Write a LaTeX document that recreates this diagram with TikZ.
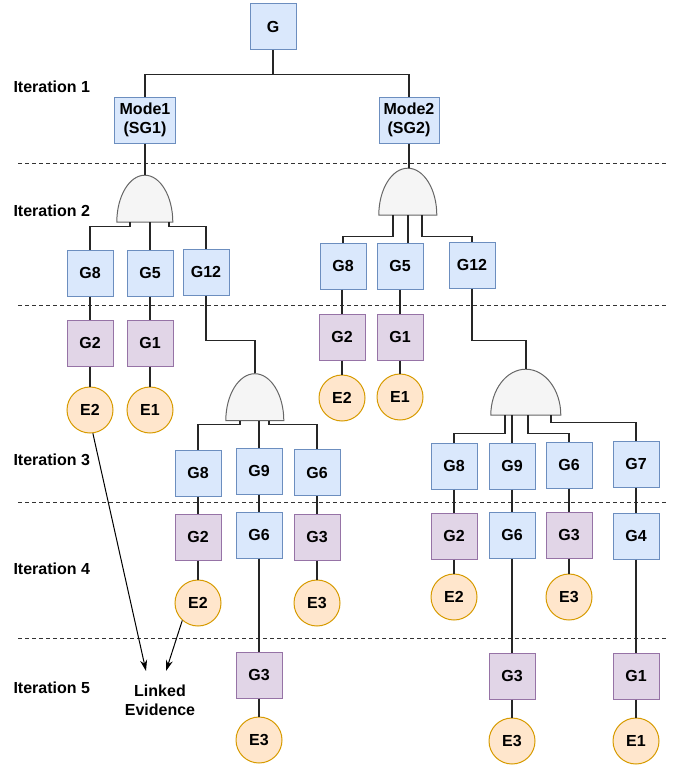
\documentclass[tikz,border=0pt]{standalone}
\usepackage{fontspec}
\setmainfont{Liberation Sans}
\usetikzlibrary{arrows.meta}
\definecolor{bfill}{HTML}{DAE8FC}
\definecolor{bdraw}{HTML}{6C8EBF}
\definecolor{pfill}{HTML}{E1D5E7}
\definecolor{pdraw}{HTML}{9673A6}
\definecolor{ofill}{HTML}{FFE6CC}
\definecolor{odraw}{HTML}{D79B00}
\definecolor{gfill}{HTML}{F5F5F5}
\definecolor{gdraw}{HTML}{666666}
\definecolor{lc}{HTML}{262626}
\newcommand{\gateshape}[3]{\draw[gateline] (#1.south west) arc[start angle=180,end angle=0,x radius=#2pt,y radius=#3pt] -- cycle;}
\begin{document}
\begin{tikzpicture}[x=1pt,y=-1pt,
  base/.style={font=\fontsize{16}{19}\selectfont\bfseries, inner sep=0pt, line width=1pt, align=center, text=black},
  gbox/.style={base, draw=bdraw, fill=bfill, minimum width=46pt, minimum height=46pt},
  pbox/.style={base, draw=pdraw, fill=pfill, minimum width=46pt, minimum height=46pt},
  ebox/.style={base, circle, draw=odraw, fill=ofill, minimum size=46pt},
  gatenode/.style={inner sep=0pt, minimum height=47pt},
  gateline/.style={draw=gdraw, fill=gfill, line width=1pt},
  conn/.style={draw=lc, line width=1.2pt},
  arr/.style={draw=black, line width=1pt, -{Stealth[length=11pt,width=7pt]}},
  sep/.style={draw=black!80, line width=1pt, dash pattern=on 4pt off 3pt},
  lab/.style={base, anchor=west}
]
\useasboundingbox (0,0) rectangle (677,768);

% separators
\coordinate (s1a) at (18,163); \coordinate (s1b) at (667,163);
\coordinate (s2a) at (18,305.5); \coordinate (s2b) at (667,305.5);
\coordinate (s3a) at (18,502); \coordinate (s3b) at (667,502);
\coordinate (s4a) at (18,638); \coordinate (s4b) at (667,638);
\draw[sep] (s1a) -- (s1b);
\draw[sep] (s2a) -- (s2b);
\draw[sep] (s3a) -- (s3b);
\draw[sep] (s4a) -- (s4b);

% labels
\node[lab] (it1) at (13,87) {Iteration 1};
\node[lab] (it2) at (13,211) {Iteration 2};
\node[lab] (it3) at (13,460) {Iteration 3};
\node[lab] (it4) at (13,569) {Iteration 4};
\node[lab] (it5) at (13,688) {Iteration 5};

% top
\node[gbox] (G) at (273,27) {G};
\node[gbox, minimum width=61pt] (m1) at (145,120) {Mode1\\(SG1)};
\node[gbox, minimum width=60pt] (m2) at (409,120) {Mode2\\(SG2)};

% gates
\node[gatenode, minimum width=56pt] (ga) at (145,198.5) {};
\node[gatenode, minimum width=58pt] (gb) at (408,191.5) {};
\node[gatenode, minimum width=58pt] (gc) at (255,397) {};
\node[gatenode, minimum width=70pt, minimum height=46pt] (gd) at (526,392) {};
\gateshape{ga}{28}{47}
\gateshape{gb}{29}{47}
\gateshape{gc}{29}{47}
\gateshape{gd}{35}{46}

% left subtree
\node[gbox] (a8) at (90,273) {G8};
\node[gbox] (a5) at (150,273) {G5};
\node[gbox] (a12) at (206,272) {G12};
\node[pbox] (a2) at (90,343) {G2};
\node[pbox] (a1) at (150,343) {G1};
\node[ebox] (ae2) at (90,410) {E2};
\node[ebox] (ae1) at (150,410) {E1};

\node[gbox] (c8) at (198,473) {G8};
\node[gbox] (c9) at (259,471) {G9};
\node[gbox] (c6) at (317,472.5) {G6};
\node[pbox] (d2) at (198,537) {G2};
\node[gbox] (d6) at (259,535) {G6};
\node[pbox] (d3) at (317,537) {G3};
\node[ebox] (de2) at (198,603) {E2};
\node[ebox] (de3) at (317,603) {E3};
\node[pbox] (f3) at (259,675) {G3};
\node[ebox] (fe3) at (259,740) {E3};

% right subtree
\node[gbox] (b8) at (343,266) {G8};
\node[gbox] (b5) at (400,266) {G5};
\node[gbox] (b12) at (472,265) {G12};
\node[pbox] (b2) at (342,337) {G2};
\node[pbox] (b1) at (400,337) {G1};
\node[ebox] (be2) at (342,398) {E2};
\node[ebox] (be1) at (400,397) {E1};

\node[gbox] (r8) at (454,466) {G8};
\node[gbox] (r9) at (512,466) {G9};
\node[gbox] (r6) at (569,465) {G6};
\node[gbox] (r7) at (636,464) {G7};
\node[pbox] (s2) at (454,536) {G2};
\node[gbox] (s6) at (512,535) {G6};
\node[pbox] (s3) at (569,535) {G3};
\node[gbox] (s4) at (636,536) {G4};
\node[ebox] (se2) at (454,597) {E2};
\node[ebox] (se3) at (569,597) {E3};
\node[pbox] (t3) at (512,676) {G3};
\node[pbox] (t1) at (636,676) {G1};
\node[ebox] (te3) at (512,741) {E3};
\node[ebox] (te1) at (636,741) {E1};

% linked evidence
\node[base] (le) at (160,700) {Linked\\Evidence};
\coordinate (la) at (146,671);
\coordinate (lb) at (166,671);

% connectors
\draw[conn] (G.south) -- ++(0,24) -| (m1.north);
\draw[conn] (G.south) -- ++(0,24) -| (m2.north);
\draw[conn] (m1.south) -- (ga.north);
\draw[conn] (m2.south) -- (m2.south |- gb.north);

\draw[conn] ([xshift=-15pt]ga.south) -- ++(0,4) -| (a8.north);
\draw[conn] (a5.north |- ga.south) -- (a5.north);
\draw[conn] ([xshift=24pt]ga.south) -- ++(0,4) -| (a12.north);
\draw[conn] (a8) -- (a2); \draw[conn] (a2) -- (ae2);
\draw[conn] (a5) -- (a1); \draw[conn] (a1) -- (ae1);
\draw[conn] (a12.south) -- ++(0,45) -| (gc.north);

\draw[conn] ([xshift=-15pt]gc.south) -- ++(0,4) -| (c8.north);
\draw[conn] (c9.north |- gc.south) -- (c9.north);
\draw[conn] ([xshift=14pt]gc.south) -- ++(0,4) -| (c6.north);
\draw[conn] (c8) -- (d2); \draw[conn] (d2) -- (de2);
\draw[conn] (c9) -- (d6); \draw[conn] (d6) -- (f3); \draw[conn] (f3) -- (fe3);
\draw[conn] (c6) -- (d3); \draw[conn] (d3) -- (de3);

\draw[conn] ([xshift=-15pt]gb.south) -- ++(0,21) -| (b8.north);
\draw[conn] (gb.south) -- (gb.south |- b5.north);
\draw[conn] ([xshift=14pt]gb.south) -- ++(0,21) -| (b12.north);
\draw[conn] (b8.south -| b2.north) -- (b2.north); \draw[conn] (b2) -- (be2);
\draw[conn] (b5) -- (b1); \draw[conn] (b1) -- (be1);
\draw[conn] (b12.south) -- ++(0,52) -| (gd.north);

\draw[conn] ([xshift=-21pt]gd.south) -- ++(0,18) -| (r8.north);
\draw[conn] ([xshift=-14pt]gd.south) -- (r9.north);
\draw[conn] ([xshift=2pt]gd.south) -- ++(0,18) -| (r6.north);
\draw[conn] ([xshift=25pt]gd.south) -- ++(0,7) -| (r7.north);
\draw[conn] (r8) -- (s2); \draw[conn] (s2) -- (se2);
\draw[conn] (r9) -- (s6); \draw[conn] (s6) -- (t3); \draw[conn] (t3) -- (te3);
\draw[conn] (r6) -- (s3); \draw[conn] (s3) -- (se3);
\draw[conn] (r7) -- (s4); \draw[conn] (s4) -- (t1); \draw[conn] (t1) -- (te1);

\draw[arr] (ae2.277) -- (la);
\draw[arr] (de2.228) -- (lb);
\end{tikzpicture}
\end{document}
